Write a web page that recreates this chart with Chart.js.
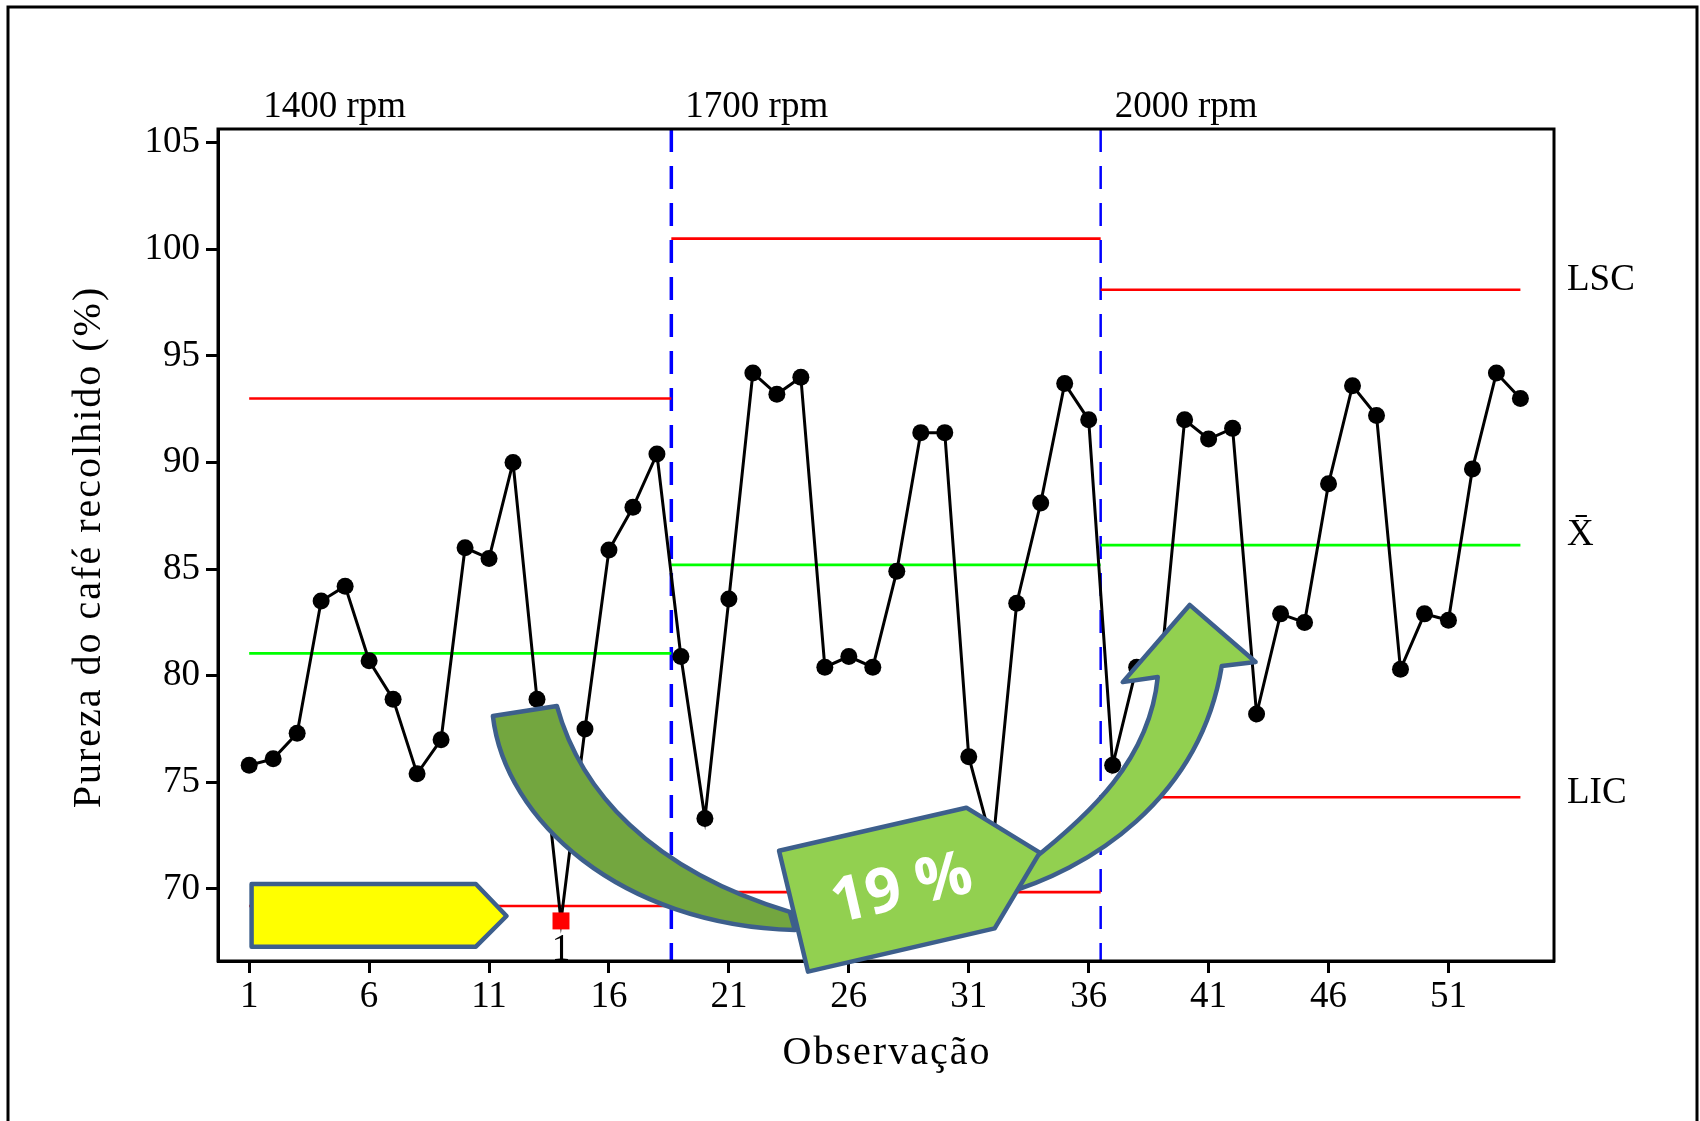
<!DOCTYPE html>
<html>
<head>
<meta charset="utf-8">
<script src="https://cdn.jsdelivr.net/npm/chart.js@4.4.1/dist/chart.umd.min.js"></script>
<style>
  body { margin: 0; background: #fff; }
  #wrap { width: 1700px; height: 1121px; }
</style>
</head>
<body>
<div id="wrap"><canvas id="chart" width="1700" height="1121"></canvas></div>
<script>
// dados da carta de controle (valores individuais)
const observacoes = [1, 2, 3, 4, 5, 6, 7, 8, 9, 10, 11, 12, 13, 14, 15, 16, 17, 18,
    19, 20, 21, 22, 23, 24, 25, 26, 27, 28, 29, 30, 31, 32, 33, 34, 35, 36,
    37, 38, 39, 40, 41, 42, 43, 44, 45, 46, 47, 48, 49, 50, 51, 52, 53, 54];
const pureza = [75.8, 76.1, 77.3, 83.5, 84.2, 80.7, 78.9, 75.4, 77.0, 86.0, 85.5, 90.0, 78.9, 68.5, 77.5, 85.9, 87.9, 90.4,
    80.9, 73.3, 83.6, 94.2, 93.2, 94.0, 80.4, 80.9, 80.4, 84.9, 91.4, 91.4, 76.2, 72.0, 83.4, 88.1, 93.7, 92.0,
    75.8, 80.4, 80.3, 92.0, 91.1, 91.6, 78.2, 82.9, 82.5, 89.0, 93.6, 92.2, 80.3, 82.9, 82.6, 89.7, 94.2, 93.0];

const fases = ["1400 rpm", "1700 rpm", "2000 rpm"];
const limitesFase = [1, 18.6, 36.5, 54];
const lsc = [93.0, 100.5, 98.1];
const media = [81.05, 85.2, 86.12];
const lic = [69.2, 69.85, 74.3];

const ticksX = [1, 6, 11, 16, 21, 26, 31, 36, 41, 46, 51];
const ticksY = [70, 75, 80, 85, 90, 95, 100, 105];
const pontoFora = 14; // teste 1

const tituloX = "Observação";
const tituloY = "Pureza do café recolhido (%)";
const fonte = "Liberation Serif";

// anotações (em unidades do gráfico: observação, %)
const setaAmarela = [[1.10, 70.23], [10.45, 70.23], [11.73, 68.73], [10.45, 67.29], [1.10, 67.29]];
const etiqueta = [[23.09, 71.79], [30.90, 73.81], [33.96, 71.70], [32.08, 68.15], [24.30, 66.12]];

const datasets = [{
    data: observacoes.map((x, i) => ({x: x, y: pureza[i]})),
    borderColor: "#000",
    borderWidth: 3,
    pointRadius: observacoes.map(x => x === pontoFora ? 12 : 8.5),
    pointStyle: observacoes.map(x => x === pontoFora ? "rect" : "circle"),
    pointBackgroundColor: observacoes.map(x => x === pontoFora ? "#ff0000" : "#000"),
    pointBorderWidth: 0,
    tension: 0
}];

fases.forEach((f, i) => {
    [[lsc, "#ff0000"], [media, "#00ff00"], [lic, "#ff0000"]].forEach(([arr, cor]) => {
        datasets.push({
            data: [{x: limitesFase[i], y: arr[i]}, {x: limitesFase[i + 1], y: arr[i]}],
            borderColor: cor,
            borderWidth: 2.7,
            pointRadius: 0
        });
    });
});

const extras = {
    id: "extras",
    beforeDatasetsDraw(chart) {
        const {ctx, chartArea, scales} = chart;
        ctx.save();
        ctx.strokeStyle = "#0000ff";
        ctx.setLineDash([23, 14]);
        [limitesFase[1], limitesFase[2]].forEach((v, i) => {
            const x = scales.x.getPixelForValue(v);
            ctx.lineWidth = i === 0 ? 3.5 : 2.5;
            ctx.beginPath();
            ctx.moveTo(x, chartArea.top);
            ctx.lineTo(x, chartArea.bottom);
            ctx.stroke();
        });
        ctx.restore();
    },
    afterDraw(chart) {
        const {ctx, chartArea, scales} = chart;
        const px = v => scales.x.getPixelForValue(v);
        const py = v => scales.y.getPixelForValue(v);
        ctx.save();

        // moldura
        ctx.strokeStyle = "#000";
        ctx.lineWidth = 3;
        ctx.strokeRect(chartArea.left, chartArea.top, chartArea.right - chartArea.left, chartArea.bottom - chartArea.top);
        ctx.beginPath();
        ctx.moveTo(8, 1121);
        ctx.lineTo(8, 7);
        ctx.lineTo(1697, 7);
        ctx.lineTo(1697, 1121);
        ctx.stroke();

        // títulos dos eixos (com espaçamento entre letras)
        ctx.fillStyle = "#000";
        ctx.font = "40px '" + fonte + "'";
        ctx.textAlign = "center";
        ctx.textBaseline = "middle";
        ctx.letterSpacing = "2px";
        ctx.fillText(tituloX, (chartArea.left + chartArea.right) / 2 + 1, 1053);
        ctx.save();
        ctx.translate(89, (chartArea.top + chartArea.bottom) / 2 + 2);
        ctx.rotate(-Math.PI / 2);
        ctx.fillText(tituloY, 0, 0);
        ctx.restore();
        ctx.letterSpacing = "0px";

        // rótulos
        ctx.font = "37px '" + fonte + "'";
        ctx.textAlign = "left";
        ctx.textBaseline = "alphabetic";
        fases.forEach((f, i) => {
            ctx.fillText(f, px(limitesFase[i]) + 14, chartArea.top - 12);
        });
        ctx.textBaseline = "middle";
        const xr = chartArea.right + 13;
        ctx.fillText("LSC", xr, py(lsc[2]) - 9);
        ctx.fillText("X\u0304", xr, py(media[2]) - 10);
        ctx.fillText("LIC", xr, py(lic[2]) - 4);
        ctx.textAlign = "center";
        ctx.textBaseline = "alphabetic";
        ctx.fillText("1", px(pontoFora), chartArea.bottom - 1);

        // anotações
        ctx.lineJoin = "round";
        ctx.lineWidth = 4.5;
        ctx.strokeStyle = "#3d5f8c";
        const poligono = pts => {
            ctx.beginPath();
            pts.forEach((p, i) => i ? ctx.lineTo(px(p[0]), py(p[1])) : ctx.moveTo(px(p[0]), py(p[1])));
            ctx.closePath();
        };
        const curva = (a, b, c) => ctx.bezierCurveTo(px(a[0]), py(a[1]), px(b[0]), py(b[1]), px(c[0]), py(c[1]));

        poligono(setaAmarela);
        ctx.fillStyle = "#ffff00";
        ctx.fill();
        ctx.stroke();

        // faixa escura (cauda)
        ctx.beginPath();
        ctx.moveTo(px(11.16), py(78.11));
        curva([11.66, 73.23], [16.45, 68.31], [23.75, 68.07]);
        ctx.lineTo(px(23.54), py(68.92));
        curva([17.70, 70.89], [14.79, 74.64], [13.83, 78.58]);
        ctx.closePath();
        ctx.fillStyle = "#73a63f";
        ctx.fill();
        ctx.stroke();

        // faixa clara com ponta
        ctx.beginPath();
        ctx.moveTo(px(32.29), py(69.71));
        curva([36.04, 70.89], [40.63, 74.17], [41.55, 80.46]);
        ctx.lineTo(px(42.96), py(80.64));
        ctx.lineTo(px(40.21), py(83.32));
        ctx.lineTo(px(37.42), py(79.70));
        ctx.lineTo(px(38.88), py(79.94));
        curva([38.54, 76.05], [36.04, 73.47], [33.54, 71.26]);
        ctx.closePath();
        ctx.fillStyle = "#92d050";
        ctx.fill();
        ctx.stroke();

        poligono(etiqueta);
        ctx.fillStyle = "#92d050";
        ctx.fill();
        ctx.stroke();

        ctx.translate(px(28.21), py(69.95));
        ctx.rotate(-13 * Math.PI / 180);
        ctx.fillStyle = "#fff";
        ctx.font = "bold 62px 'Open Sans'";
        ctx.textAlign = "center";
        ctx.textBaseline = "middle";
        ctx.fillText("19 %", 0, 0);
        ctx.restore();
    }
};

new Chart(document.getElementById("chart"), {
    type: "line",
    data: {datasets: datasets},
    options: {
        responsive: false,
        animation: false,
        events: [],
        layout: {padding: {top: 129, right: 146, left: 0, bottom: 0}},
        plugins: {legend: {display: false}, tooltip: {enabled: false}},
        scales: {
            x: {
                type: "linear",
                min: -0.3,
                max: 55.4,
                afterBuildTicks: s => { s.ticks = ticksX.map(v => ({value: v})); },
                afterFit: s => { s.height = 160; },
                grid: {drawOnChartArea: false, tickLength: 12, tickWidth: 3, tickColor: "#000"},
                border: {color: "#000", width: 3},
                ticks: {color: "#000", font: {family: fonte, size: 37}, padding: 2, maxRotation: 0, autoSkip: false}
            },
            y: {
                min: 66.62,
                max: 105.64,
                afterBuildTicks: s => { s.ticks = ticksY.map(v => ({value: v})); },
                afterFit: s => { s.width = 218; },
                grid: {drawOnChartArea: false, tickLength: 12, tickWidth: 3, tickColor: "#000"},
                border: {color: "#000", width: 3},
                ticks: {color: "#000", font: {family: fonte, size: 37}, padding: 6}
            }
        }
    },
    plugins: [extras]
});
</script>
</body>
</html>
